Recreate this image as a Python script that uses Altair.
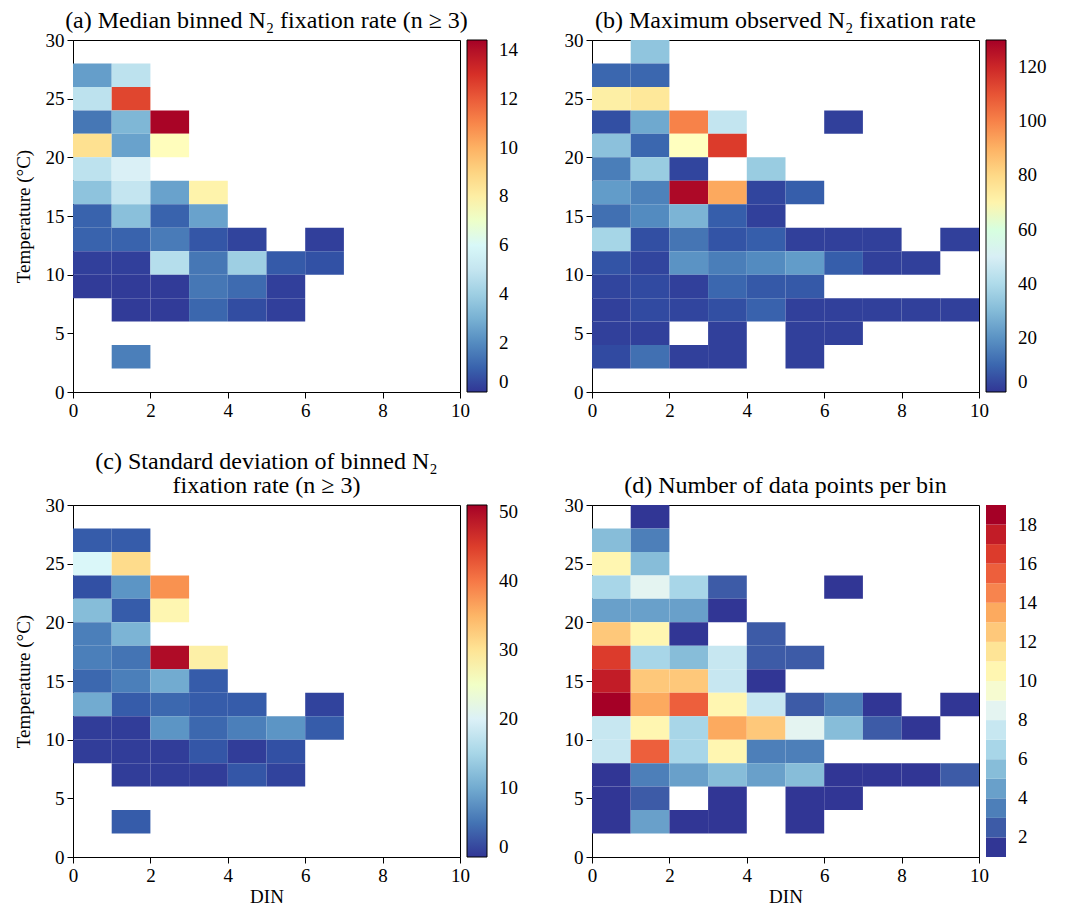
import altair as alt
import pandas as pd

N = None
DIN_START = [0, 1, 2, 3, 4, 5, 6, 7, 8, 9]
TEMP_START = [28, 26, 24, 22, 20, 18, 16, 14, 12, 10, 8, 6, 4, 2, 0]

median_rate = [
    [],
    [2.5, 4.8],
    [4.8, 12.5],
    [1.5, 3.2, 14.3],
    [8.6, 2.6, 7.3],
    [4.8, 5.6],
    [3.6, 5.0, 2.6, 7.8],
    [1.0, 3.5, 1.0, 2.6],
    [1.0, 1.0, 1.6, 0.7, 0.3, N, 0.2],
    [0.2, 0.2, 4.6, 1.5, 4.0, 0.8, 0.6],
    [0.1, 0.1, 0.1, 1.5, 1.2, 0.2],
    [N, 0.1, 0.1, 1.1, 0.5, 0.2],
    [],
    [N, 1.7],
    [],
]

max_rate = [
    [N, 33],
    [10, 10],
    [72, 75],
    [5, 25, 100, 45, N, N, 2],
    [32, 10, 65, 115],
    [15, 35, 3, N, 35],
    [22, 16, 128, 92, 3, 8],
    [12, 18, 28, 8, 2],
    [38, 5, 13, 6, 8, 2, 2, 2, N, 2],
    [6, 3, 20, 15, 18, 22, 8, 2, 2],
    [3, 4, 2, 10, 7, 7],
    [2, 4, 3, 5, 9, 2, 2, 2, 2, 2],
    [2, 2, N, 2, N, 2, 2],
    [4, 12, 2, 2, N, 2],
    [],
]

std_rate = [
    [],
    [3, 3],
    [21, 31],
    [2, 8, 38],
    [12, 3, 27],
    [6, 11],
    [6, 5, 50, 28],
    [4, 6, 10, 3],
    [10, 3, 4, 3, 3, N, 1],
    [0.5, 0.5, 8, 4, 6, 8, 3],
    [0.5, 0.5, 0.5, 2.5, 0.5, 2],
    [N, 0.5, 0.5, 0.5, 2.5, 1],
    [],
    [N, 3],
    [],
]

count_per_bin = [
    [N, 1],
    [5, 3],
    [10, 5],
    [6, 8, 6, 2, N, N, 1],
    [4, 4, 4, 1],
    [12, 10, 1, N, 2],
    [16, 6, 5, 7, 2, 2],
    [17, 12, 12, 7, 1],
    [19, 13, 15, 10, 7, 2, 3, 1, N, 1],
    [7, 10, 6, 13, 12, 8, 5, 2, 1],
    [7, 15, 6, 10, 3, 3],
    [1, 3, 4, 5, 4, 5, 1, 1, 1, 2],
    [1, 2, N, 1, N, 1, 1],
    [1, 4, 1, 1, N, 1],
    [],
]

FONT = "Liberation Serif"

# ColorBrewer RdYlBu anchors, low (blue) -> high (red)
RDYLBU_R = ["#313695", "#4575b4", "#74add1", "#abd9e9", "#e0f3f8", "#ffffbf",
            "#fee090", "#fdae61", "#f46d43", "#d73027", "#a50026"]


def discrete_colors(n):
    rgb = [tuple(int(h[i:i + 2], 16) for i in (1, 3, 5)) for h in RDYLBU_R]
    out = []
    for k in range(n):
        p = k / (n - 1) * (len(rgb) - 1)
        i = min(int(p), len(rgb) - 2)
        f = p - i
        c = [round(rgb[i][j] + (rgb[i + 1][j] - rgb[i][j]) * f) for j in range(3)]
        out.append("#%02x%02x%02x" % tuple(c))
    return out


def to_frame(grid):
    rows = []
    for t, row in zip(TEMP_START, grid):
        for d, v in zip(DIN_START, row):
            if v is not None:
                rows.append({"din": d, "din2": d + 1, "t": t, "t2": t + 2, "v": v})
    return pd.DataFrame(rows)


def panel(grid, title, scale, legend_values, show_ytitle, show_xtitle):
    xaxis = alt.Axis(values=[0, 2, 4, 6, 8, 10], title="DIN" if show_xtitle else None,
                     titlePadding=2)
    yaxis = alt.Axis(values=[0, 5, 10, 15, 20, 25, 30],
                     title="Temperature (°C)" if show_ytitle else None)
    legend_kw = dict(
        title=None,
        type="gradient",
        format="d",
        gradientLength=352,
        gradientThickness=20,
        gradientStrokeColor="black",
        gradientStrokeWidth=1,
        labelFont=FONT,
        labelFontSize=19,
        labelColor="black",
        labelOffset=12,
        labelBaseline="middle",
        labelOverlap=False,
        offset=7,
        orient="right",
    )
    if legend_values is not None:
        legend_kw["values"] = legend_values
    else:
        legend_kw["labelExpr"] = "datum.value % 2 == 0 ? datum.label : ''"
        legend_kw["gradientStrokeWidth"] = 0
    return (
        alt.Chart(to_frame(grid))
        .mark_rect(stroke=None)
        .encode(
            x=alt.X("din:Q", scale=alt.Scale(domain=[0, 10], nice=False, zero=False), axis=xaxis),
            x2="din2:Q",
            y=alt.Y("t:Q", scale=alt.Scale(domain=[0, 30], nice=False, zero=False), axis=yaxis),
            y2="t2:Q",
            color=alt.Color("v:Q", scale=scale, legend=alt.Legend(**legend_kw)),
        )
        .properties(
            width=387,
            height=352,
            title=alt.TitleParams(title, font=FONT, fontSize=24, fontWeight="normal",
                                  anchor="middle", frame="group", offset=-2, color="black",
                                  lineHeight=24),
        )
    )


pa = panel(median_rate, "(a) Median binned N₂ fixation rate (n  ≥  3)",
           alt.Scale(domain=[0, 14.4], range=RDYLBU_R),
           [0, 2, 4, 6, 8, 10, 12, 14], True, False)
pb = panel(max_rate, "(b) Maximum observed N₂ fixation rate",
           alt.Scale(domain=[0, 130], range=RDYLBU_R),
           [0, 20, 40, 60, 80, 100, 120], False, False)
pc = panel(std_rate, ["(c) Standard deviation of binned N₂", "fixation rate (n  ≥  3)"],
           alt.Scale(domain=[0, 51], range=RDYLBU_R),
           [0, 10, 20, 30, 40, 50], True, True)
pd_ = panel(count_per_bin, "(d) Number of data points per bin",
            alt.Scale(type="quantize", domain=[1, 19], nice=False, range=discrete_colors(18)),
            None, False, True)

top = alt.hconcat(pa, pb, spacing=44).resolve_scale(color="independent")
bottom = alt.hconcat(pc, pd_, spacing=44).resolve_scale(color="independent")

chart = (
    alt.vconcat(top, bottom, spacing=28)
    .resolve_scale(color="independent")
    .properties(padding={"left": 5, "top": 0, "right": 5, "bottom": 0})
    .configure_view(stroke="black", strokeWidth=1)
    .configure_axis(
        labelFont=FONT, labelFontSize=19, labelColor="black",
        titleFont=FONT, titleFontSize=19, titleFontWeight="normal", titleColor="black",
        domainColor="black", tickColor="black", tickSize=6, grid=False,
        labelPadding=3, titlePadding=12,
    )
    .configure_axisY(labelFlush=False)
    .configure_axisX(labelFlush=False)
)

chart.save("out.html", embed_options={"renderer": "svg", "actions": False})
